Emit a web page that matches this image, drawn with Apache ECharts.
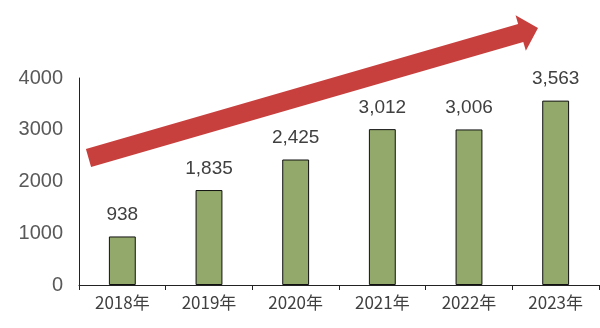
<!DOCTYPE html>
<html>
<head>
<meta charset="utf-8">
<script src="https://cdn.jsdelivr.net/npm/echarts@6/dist/echarts.min.js"></script>
<style>html,body{margin:0;padding:0;background:#fff}#c{width:600px;height:328px}</style>
</head>
<body>
<div id="c"></div>
<script>
const categories = ['2018年', '2019年', '2020年', '2021年', '2022年', '2023年'];
const values = [938, 1835, 2425, 3012, 3006, 3563];
const yTicks = [0, 1000, 2000, 3000, 4000];

const chart = echarts.init(document.getElementById('c'), null, {renderer: 'canvas'});

// decorative trend arrow (pixel geometry)
function arrowPoints(x0, y0, x1, y1, hw, headLen, headHw) {
  const dx = x1 - x0, dy = y1 - y0, L = Math.hypot(dx, dy);
  const ux = dx / L, uy = dy / L, nx = -uy, ny = ux;
  const p = (a, b) => [x0 + ux * a + nx * b, y0 + uy * a + ny * b];
  const s = L - headLen;
  return [p(0, -hw), p(s, -hw), p(s, -headHw), p(L, 0), p(s, headHw), p(s, hw), p(0, hw)];
}

chart.setOption({
  animation: false,
  grid: {left: 79, right: 1, top: 78, bottom: 43, containLabel: false},
  xAxis: {
    type: 'category',
    data: categories,
    axisLine: {lineStyle: {color: '#222', width: 1}},
    axisTick: {show: true, length: 5, lineStyle: {color: '#222'}},
    axisLabel: {color: '#404040', fontSize: 17, fontFamily: '"Noto Sans CJK JP", sans-serif', margin: 9}
  },
  yAxis: {
    type: 'value',
    min: yTicks[0],
    max: yTicks[yTicks.length - 1],
    interval: 1000,
    axisLine: {show: true, lineStyle: {color: '#222', width: 1}},
    axisTick: {show: false},
    splitLine: {show: false},
    axisLabel: {color: '#595959', fontSize: 20, fontFamily: '"Liberation Sans", Arial, sans-serif', margin: 16,
      formatter: v => String(v)}
  },
  series: [{
    type: 'bar',
    data: values,
    barWidth: '31%',
    itemStyle: {color: '#93A96B', borderColor: '#111', borderWidth: 1},
    label: {
      show: true,
      position: 'top',
      distance: 12,
      color: '#404040',
      fontSize: 19,
      fontFamily: '"Liberation Sans", Arial, sans-serif',
      formatter: p => p.value.toLocaleString('en-US')
    }
  }],
  graphic: [{
    type: 'polygon',
    z: 100,
    shape: {points: arrowPoints(88.5, 158, 538, 28, 9.3, 18, 18.5)},
    style: {fill: '#C8403E'}
  }]
});
</script>
</body>
</html>
